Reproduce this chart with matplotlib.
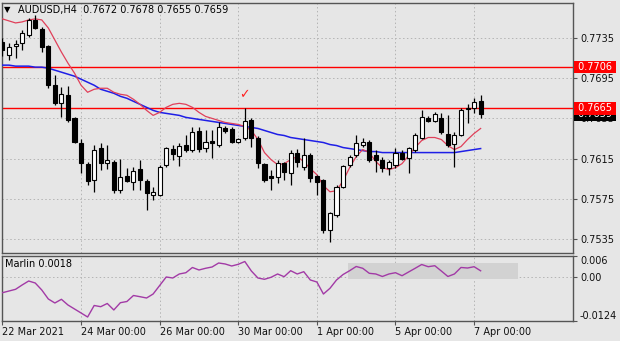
import numpy as np
import matplotlib
matplotlib.use('Agg')
from matplotlib import pyplot as plt

# AUDUSD H4 candles (bar index 0 = 22 Mar 00:00)
opens = [0.7731, 0.7718, 0.7727, 0.7730, 0.7738, 0.7753, 0.7744, 0.7727, 0.7688, 0.7670,
         0.7678, 0.7655, 0.7631, 0.7610, 0.7594, 0.7626, 0.7611, 0.7612, 0.7584, 0.7598,
         0.7592, 0.7605, 0.7593, 0.7579, 0.7579, 0.7609, 0.7625, 0.7618, 0.7629, 0.7624,
         0.7642, 0.7626, 0.7633, 0.7629, 0.7645, 0.7644, 0.7632, 0.7636, 0.7653, 0.7636,
         0.7610, 0.7598, 0.7597, 0.7611, 0.7601, 0.7621, 0.7607, 0.7619, 0.7598, 0.7594,
         0.7544, 0.7559, 0.7587, 0.7609, 0.7619, 0.7629, 0.7632, 0.7619, 0.7614, 0.7606,
         0.7609, 0.7621, 0.7616, 0.7624, 0.7636, 0.7655, 0.7652, 0.7655, 0.7639, 0.7630,
         0.7638, 0.7664, 0.7665, 0.7672]
highs = [0.7735, 0.7730, 0.7733, 0.7743, 0.7755, 0.7758, 0.7746, 0.7728, 0.7698, 0.7686,
         0.7687, 0.7656, 0.7635, 0.7612, 0.7629, 0.7631, 0.7629, 0.7614, 0.7615, 0.7606,
         0.7607, 0.7614, 0.7595, 0.7587, 0.7609, 0.7627, 0.7629, 0.7631, 0.7638, 0.7646,
         0.7646, 0.7643, 0.7643, 0.7651, 0.7647, 0.7646, 0.7636, 0.7665, 0.7655, 0.7637,
         0.7611, 0.7604, 0.7614, 0.7612, 0.7624, 0.7625, 0.7636, 0.7621, 0.7599, 0.7595,
         0.7562, 0.7589, 0.7609, 0.7619, 0.7638, 0.7636, 0.7634, 0.7624, 0.7617, 0.7614,
         0.7626, 0.7624, 0.7627, 0.7640, 0.7663, 0.7657, 0.7661, 0.7660, 0.7658, 0.7641,
         0.7665, 0.7669, 0.7675, 0.7678]
lows = [0.7717, 0.7713, 0.7715, 0.7723, 0.7736, 0.7744, 0.7721, 0.7685, 0.7668, 0.7656,
        0.7651, 0.7631, 0.7601, 0.7589, 0.7582, 0.7604, 0.7605, 0.7581, 0.7581, 0.7592,
        0.7584, 0.7584, 0.7564, 0.7574, 0.7578, 0.7607, 0.7614, 0.7608, 0.7622, 0.7622,
        0.7622, 0.7622, 0.7616, 0.7627, 0.7640, 0.7631, 0.7631, 0.7634, 0.7627, 0.7606,
        0.7592, 0.7584, 0.7591, 0.7594, 0.7589, 0.7607, 0.7604, 0.7592, 0.7579, 0.7541,
        0.7532, 0.7557, 0.7586, 0.7607, 0.7617, 0.7627, 0.7612, 0.7602, 0.7602, 0.7599,
        0.7606, 0.7614, 0.7601, 0.7622, 0.7635, 0.7651, 0.7651, 0.7639, 0.7627, 0.7607,
        0.7637, 0.7650, 0.7660, 0.7655]
closes = [0.7723, 0.7726, 0.7729, 0.7740, 0.7753, 0.7745, 0.7726, 0.7688, 0.7670, 0.7679,
          0.7653, 0.7632, 0.7611, 0.7593, 0.7624, 0.7611, 0.7614, 0.7584, 0.7597, 0.7593,
          0.7603, 0.7594, 0.7581, 0.7582, 0.7607, 0.7626, 0.7620, 0.7628, 0.7624, 0.7641,
          0.7625, 0.7632, 0.7631, 0.7646, 0.7642, 0.7632, 0.7635, 0.7652, 0.7636, 0.7611,
          0.7594, 0.7596, 0.7611, 0.7602, 0.7621, 0.7612, 0.7619, 0.7596, 0.7592, 0.7544,
          0.7561, 0.7587, 0.7608, 0.7617, 0.7631, 0.7632, 0.7614, 0.7614, 0.7606, 0.7612,
          0.7621, 0.7615, 0.7626, 0.7638, 0.7656, 0.7652, 0.7659, 0.7641, 0.7629, 0.7638,
          0.7663, 0.7665, 0.7671, 0.7659]

# moving averages as drawn (red = fast, blue = slow)
ma_fast = [0.7754, 0.7752, 0.7750, 0.7751, 0.7753, 0.7754, 0.7753, 0.7745, 0.7733, 0.7721,
           0.7710, 0.7700, 0.7688, 0.7681, 0.7684, 0.7685, 0.7685, 0.7681, 0.7679, 0.7678,
           0.7674, 0.7669, 0.7663, 0.7658, 0.7661, 0.7666, 0.7669, 0.7670, 0.7669, 0.7666,
           0.7661, 0.7657, 0.7655, 0.7653, 0.7651, 0.7650, 0.7649, 0.7647, 0.7643, 0.7634,
           0.7621, 0.7614, 0.7609, 0.7610, 0.7614, 0.7617, 0.7612, 0.7605, 0.7599, 0.7588,
           0.7582, 0.7583, 0.7593, 0.7606, 0.7617, 0.7624, 0.7621, 0.7612, 0.7606, 0.7604,
           0.7606, 0.7610, 0.7618, 0.7626, 0.7633, 0.7636, 0.7636, 0.7634, 0.7628, 0.7624,
           0.7627, 0.7634, 0.7640, 0.7645]
ma_slow = [0.7708, 0.7708, 0.7707, 0.7707, 0.7707, 0.7706, 0.7706, 0.7705, 0.7703, 0.7701,
           0.7699, 0.7697, 0.7694, 0.7691, 0.7688, 0.7684, 0.7682, 0.7680, 0.7677, 0.7675,
           0.7672, 0.7669, 0.7666, 0.7663, 0.7661, 0.7660, 0.7659, 0.7658, 0.7656, 0.7655,
           0.7654, 0.7653, 0.7652, 0.7651, 0.7650, 0.7649, 0.7648, 0.7647, 0.7646, 0.7645,
           0.7643, 0.7641, 0.7639, 0.7638, 0.7636, 0.7635, 0.7634, 0.7633, 0.7632, 0.7631,
           0.7629, 0.7628, 0.7626, 0.7625, 0.7624, 0.7623, 0.7622, 0.7622, 0.7621, 0.7621,
           0.7621, 0.7621, 0.7621, 0.7621, 0.7621, 0.7621, 0.7621, 0.7621, 0.7621, 0.7621,
           0.7622, 0.7623, 0.7624, 0.7625]

marlin = [-0.00439, -0.00391, -0.00343, -0.00221, -0.00108, -0.00164, -0.00362, -0.00617, -0.00730, -0.00626,
          -0.00787, -0.00900, -0.01013, -0.01127, -0.00801, -0.00835, -0.00744, -0.00928, -0.00722, -0.00688,
          -0.00518, -0.00552, -0.00589, -0.00476, -0.00235, 0.00006, -0.00023, 0.00091, 0.00127, 0.00275,
          0.00204, 0.00252, 0.00289, 0.00402, 0.00374, 0.00317, 0.00365, 0.00444, 0.00175, -0.00023,
          -0.00059, -0.00003, 0.00091, 0.00014, 0.00184, 0.00091, 0.00156, -0.00079, -0.00136, -0.00476,
          -0.00314, -0.00079, 0.00076, 0.00184, 0.00303, 0.00252, 0.00110, 0.00091, 0.00020, 0.00091,
          0.00127, 0.00042, 0.00147, 0.00252, 0.00359, 0.00297, 0.00325, 0.00175, 0.00020, 0.00091,
          0.00275, 0.00260, 0.00297, 0.00181]

date_bars = [0, 12, 24, 36, 48, 60, 72]
date_labels = ['22 Mar 2021', '24 Mar 00:00', '26 Mar 00:00', '30 Mar 00:00',
               '1 Apr 00:00', '5 Apr 00:00', '7 Apr 00:00']
price_ticks = [0.7735, 0.7695, 0.7655, 0.7615, 0.7575, 0.7535]
levels = [0.7706, 0.7665]
marlin_ticks = [0.006, 0.0, -0.0124]
marlin_tick_labels = ['0.006', '0.00', '-0.0124']
check_bar, check_price = 37, 0.7679
box_bars = (52.8, 78.7)
box_vals = (-0.0005, 0.0040)

BG = '#e6e6e6'
FRAME = '#555555'
GRID = '#b4b4b4'

fig = plt.figure(figsize=(6.2, 3.41), dpi=100)
fig.patch.set_facecolor(BG)

ax = fig.add_axes([2 / 620, 88 / 341, 571 / 620, 250 / 341])
ax2 = fig.add_axes([2 / 620, 20 / 341, 571 / 620, 65 / 341])

x = np.arange(len(opens))
o = np.array(opens)
c = np.array(closes)
h = np.array(highs)
l = np.array(lows)

for a in (ax, ax2):
    a.set_facecolor(BG)
    a.set_xlim(-0.07, 87.1)
    for s in a.spines.values():
        s.set_color(FRAME)
        s.set_linewidth(1.0)
    for b in date_bars:
        a.axvline(b, color=GRID, lw=0.7, ls=(0, (1.5, 2.5)), zorder=0)

# --- price panel
ax.set_ylim(0.752108, 0.776983)
for p in price_ticks:
    ax.axhline(p, color=GRID, lw=0.7, ls=(0, (1.5, 2.5)), zorder=0)

for lv in levels:
    ax.axhline(lv, color='#ff0000', lw=1.0, zorder=2)

ax.plot(x, ma_slow, color='#1f1fe6', lw=1.1, zorder=3)
ax.plot(x, ma_fast, color='#e0405a', lw=0.9, zorder=3)

ax.vlines(x, l, h, color='black', lw=0.9, zorder=4)
up = c >= o
body_lo = np.minimum(o, c)
body_h = np.maximum(np.abs(c - o), 0.00004)
ax.bar(x[up], body_h[up], bottom=body_lo[up], width=0.62,
       color='white', edgecolor='black', linewidth=0.8, zorder=5)
ax.bar(x[~up], body_h[~up], bottom=body_lo[~up], width=0.62,
       color='black', edgecolor='black', linewidth=0.8, zorder=5)

ax.text(check_bar, check_price, '\u2713', color='#ff2020', fontsize=9,
        ha='center', va='center', fontweight='bold', zorder=6)

ax.yaxis.tick_right()
ax.set_yticks(price_ticks)
ax.set_yticklabels(['%.4f' % p for p in price_ticks])
ax.tick_params(axis='y', direction='out', length=3, width=0.8, labelsize=7,
               pad=2, color=FRAME, labelcolor='#111111')
ax.tick_params(axis='x', length=0, labelbottom=False)

# current price and level tags on the price scale
ax.text(1.0035, closes[-1], ' %.4f ' % closes[-1], transform=ax.get_yaxis_transform(),
        color='white', fontsize=7, va='center', ha='left', clip_on=False, zorder=7,
        bbox=dict(boxstyle='square,pad=0.12', fc='black', ec='none'))
for lv in levels:
    ax.text(1.0035, lv, ' %.4f ' % lv, transform=ax.get_yaxis_transform(),
            color='white', fontsize=7, va='center', ha='left', clip_on=False, zorder=8,
            bbox=dict(boxstyle='square,pad=0.12', fc='#ff0000', ec='none'))

fig.text(4 / 620, 1 - 10 / 341, '\u25bc', fontsize=6, va='center', ha='left')
fig.text(18 / 620, 1 - 10 / 341,
         'AUDUSD,H4  %.4f %.4f %.4f %.4f' % (opens[-1], highs[-1], lows[-1], closes[-1]),
         fontsize=7, va='center', ha='left', color='black')

# --- Marlin panel
ax2.set_ylim(-0.0124, 0.006)
ax2.axhline(0.0, color=GRID, lw=0.7, ls=(0, (1.5, 2.5)), zorder=0)
ax2.fill_between(box_bars, box_vals[0], box_vals[1], color='#d2d2d2', lw=0, zorder=1)
ax2.plot(x, marlin, color='#a23aa6', lw=1.0, zorder=3)
ax2.text(0.006, 0.87, 'Marlin %.4f' % marlin[-1], transform=ax2.transAxes,
         fontsize=7, va='center', ha='left')

ax2.yaxis.tick_right()
ax2.set_yticks(marlin_ticks)
ax2.set_yticklabels(marlin_tick_labels)
ax2.tick_params(axis='y', direction='out', length=3, width=0.8, labelsize=7,
                pad=2, color=FRAME, labelcolor='#111111')
yl = ax2.get_yticklabels()
yl[0].set_va('top')
yl[-1].set_va('bottom')

ax2.set_xticks(date_bars)
ax2.set_xticklabels(date_labels)
ax2.tick_params(axis='x', direction='out', length=3, width=0.8, labelsize=7,
                pad=1, color=FRAME, labelcolor='#111111')
for t in ax2.get_xticklabels():
    t.set_ha('left')

fig.savefig('out.png', dpi=100, facecolor=BG)
